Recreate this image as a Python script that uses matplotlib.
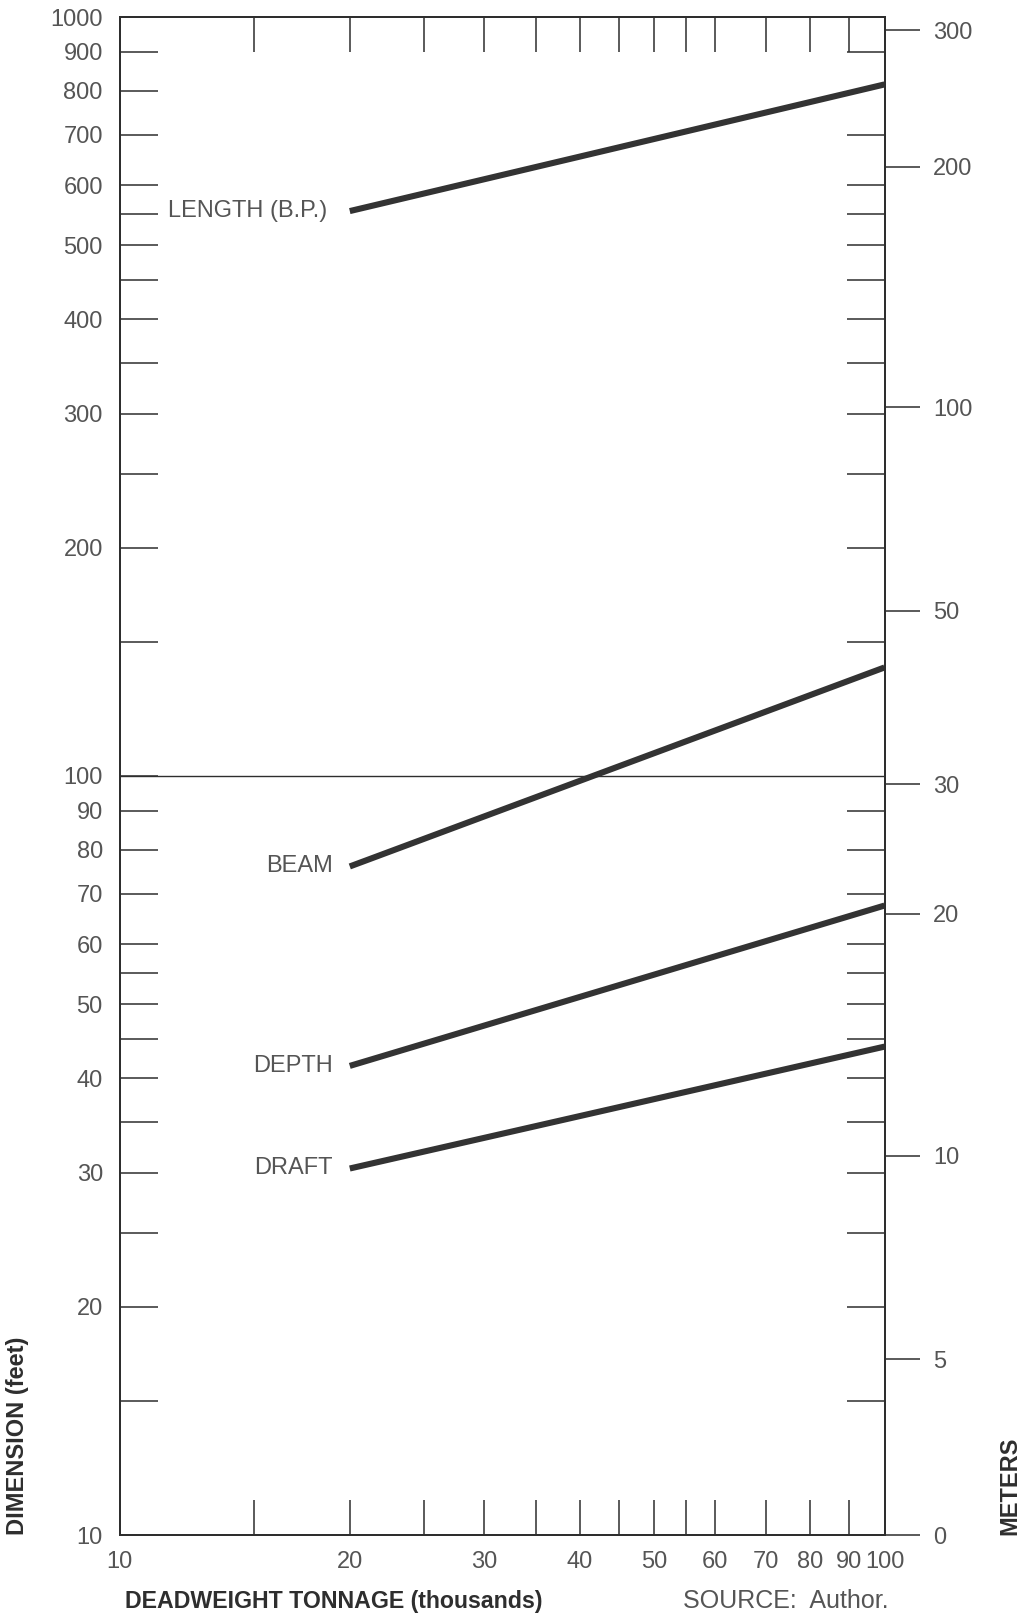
import matplotlib
matplotlib.use("Agg")
import matplotlib.pyplot as plt
from matplotlib.ticker import FixedLocator, FixedFormatter, NullFormatter

# Deadweight tonnage (thousands) at the two ends of each trend line
dwt = [20, 100]

# Principal dimensions in feet
length_bp = [555, 815]
beam = [76, 139]
depth = [41.5, 67.5]
draft = [30.4, 44]

series_names = ["LENGTH (B.P.)", "BEAM", "DEPTH", "DRAFT"]

# Axis ticks
x_label_ticks = [10, 20, 30, 40, 50, 60, 70, 80, 90, 100]
x_minor_ticks = [15, 20, 25, 30, 35, 40, 45, 50, 55, 60, 70, 80, 90]

y_label_ticks = [1000, 900, 800, 700, 600, 500, 400, 300, 200,
                 100, 90, 80, 70, 60, 50, 40, 30, 20, 10]
y_minor_left = [550, 450, 350, 250, 150, 55, 45, 35, 25, 15]
y_minor_right = [900, 700, 600, 550, 500, 450, 400, 350, 300, 250, 200, 150,
                 90, 80, 70, 60, 55, 50, 45, 40, 35, 30, 25, 20, 15]

# Metre scale on the right, placed at the equivalent height in feet
meter_labels = ["300", "200", "100", "50", "30", "20", "10", "5", "0"]
meter_pos_feet = [961, 635, 306, 165, 97.6, 65.8, 31.6, 17.05, 10]

TEXT = "#555555"
DARK = "#2e2e2e"
FONT = "Liberation Sans"
plt.rcParams["font.family"] = [FONT, "DejaVu Sans"]

W, H = 1028, 1614
fig = plt.figure(figsize=(W / 100, H / 100), dpi=100)
fig.patch.set_facecolor("white")

left_px, right_px, top_px, bottom_px = 119.5, 884.5, 17, 1535
ax = fig.add_axes([left_px / W, (H - bottom_px) / H,
                   (right_px - left_px) / W, (bottom_px - top_px) / H])
ax2 = ax.twinx()

for a in (ax, ax2):
    a.set_xscale("log")
    a.set_yscale("log")
    a.set_ylim(10, 1000)
    for s in a.spines.values():
        s.set_linewidth(1.4)
        s.set_color(DARK)
ax.set_xlim(10, 100)

# x axis: labels only on major ticks, inward marks top and bottom
ax.xaxis.remove_overlapping_locs = False
ax.xaxis.set_major_locator(FixedLocator(x_label_ticks))
ax.xaxis.set_major_formatter(FixedFormatter([str(v) for v in x_label_ticks]))
ax.xaxis.set_minor_locator(FixedLocator(x_minor_ticks))
ax.xaxis.set_minor_formatter(NullFormatter())
ax.tick_params(axis="x", which="major", length=0, labelsize=17,
               labelcolor=TEXT, pad=11.5)
ax.tick_params(axis="x", which="minor", direction="in", length=25,
               width=1.1, color=DARK, top=True, bottom=True)

# left y axis (feet)
ax.yaxis.set_major_locator(FixedLocator(y_label_ticks))
ax.yaxis.set_major_formatter(FixedFormatter([str(v) for v in y_label_ticks]))
ax.yaxis.set_minor_locator(FixedLocator(y_minor_left))
ax.yaxis.set_minor_formatter(NullFormatter())
ax.tick_params(axis="y", which="both", direction="in", length=27.5,
               width=1.1, color=DARK, left=True, right=False)
ax.tick_params(axis="y", which="major", labelsize=17, labelcolor=TEXT, pad=12)

# right y axis (metres)
ax2.yaxis.remove_overlapping_locs = False
ax2.yaxis.set_major_locator(FixedLocator(meter_pos_feet))
ax2.yaxis.set_major_formatter(FixedFormatter(meter_labels))
ax2.yaxis.set_minor_locator(FixedLocator(y_minor_right))
ax2.yaxis.set_minor_formatter(NullFormatter())
ax2.tick_params(axis="y", which="major", direction="out", length=25,
               width=1.1, color=DARK, labelsize=17, labelcolor=TEXT, pad=10,
               left=False, right=True)
ax2.tick_params(axis="y", which="minor", direction="in", length=27.5,
               width=1.1, color=DARK, left=False, right=True)

# reference line at 100 ft
ax.axhline(100, color=DARK, lw=1.0, zorder=1)

# trend lines with labels
for name, vals in zip(series_names, [length_bp, beam, depth, draft]):
    ax.plot(dwt, vals, color="#333333", lw=4.4, solid_capstyle="butt",
            clip_on=False, zorder=3)
    off = -16 if name.startswith("LENGTH") else -12
    ax.annotate(name, xy=(dwt[0], vals[0]), xytext=(off, 0),
                textcoords="offset points", ha="right", va="center",
                fontsize=17, color=TEXT)

# axis titles and source
fig.text(18 / W, (H - bottom_px) / H, "DIMENSION (feet)", rotation=90,
         ha="center", va="bottom", fontsize=17, fontweight="bold", color=DARK)
fig.text(1010 / W, (H - bottom_px) / H, "METERS", rotation=90,
         ha="center", va="bottom", fontsize=17, fontweight="bold", color=DARK)
fig.text(125 / W, (H - 1608) / H, "DEADWEIGHT TONNAGE (thousands)",
         ha="left", va="baseline", fontsize=16.7, fontweight="bold", color=DARK)
fig.text(683 / W, (H - 1608) / H, "SOURCE:  Author.",
         ha="left", va="baseline", fontsize=18, color=TEXT)

fig.savefig("out.png", dpi=100, facecolor="white")
